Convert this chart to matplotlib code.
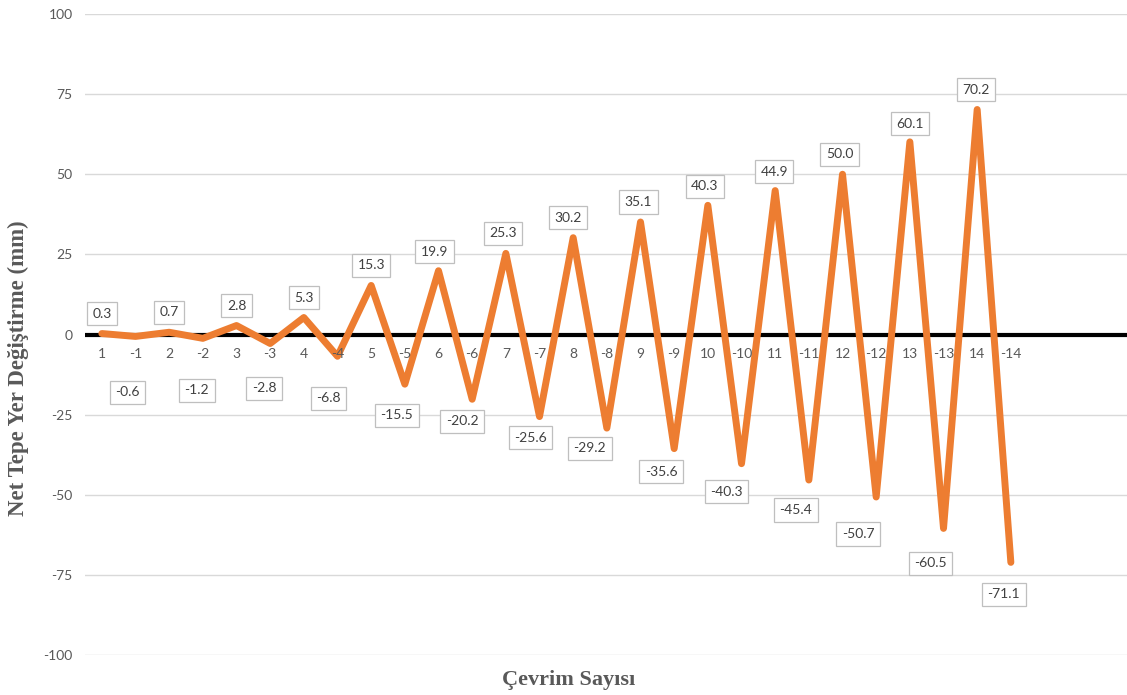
import matplotlib
matplotlib.use("Agg")
import matplotlib.pyplot as plt

# Cycle labels (positive / negative half-cycles) and net peak displacements (mm)
cycles = ["1", "-1", "2", "-2", "3", "-3", "4", "-4", "5", "-5", "6", "-6", "7", "-7",
          "8", "-8", "9", "-9", "10", "-10", "11", "-11", "12", "-12", "13", "-13", "14", "-14"]
displacement = [0.3, -0.6, 0.7, -1.2, 2.8, -2.8, 5.3, -6.8, 15.3, -15.5, 19.9, -20.2, 25.3, -25.6,
                30.2, -29.2, 35.1, -35.6, 40.3, -40.3, 44.9, -45.4, 50.0, -50.7, 60.1, -60.5, 70.2, -71.1]
y_ticks = [-100, -75, -50, -25, 0, 25, 50, 75, 100]

# Label offsets in pixels (dx, dy) from each point
label_dx = [0, -8, 0, -6, 0, -6, 0, -9, 0, -8, -4, -10, -3, -9,
            -5, -17, -2, -13, -3, -15, -1, -13, -3, -18, 0, -13, -1, -7]
label_dy = [20, -56, 20, -52, 20, -45, 20, -42, 20, -31, 19, -22, 20, -21,
            20, -20, 20, -23, 19, -28, 19, -30, 20, -37, 18, -35, 20, -32]

W, H = 1127, 695
fig = plt.figure(figsize=(W / 100, H / 100), dpi=100)
ax = fig.add_axes([85 / W, 40 / H, 1042 / W, 641 / H])

x = list(range(len(cycles)))
ax.set_xlim(-0.5, 30.45)
ax.set_ylim(-100, 100)

for yt in y_ticks:
    if yt != 0:
        ax.axhline(yt, color="#D9D9D9", lw=1.0, zorder=1)
ax.axhline(0, color="black", lw=3.0, zorder=2)

ax.plot(x, displacement, color="#ED7D31", lw=5.0, solid_joinstyle="round",
        solid_capstyle="round", zorder=3)

label_font = ["Lato", "DejaVu Sans"]
for xi, v, dx, dy in zip(x, displacement, label_dx, label_dy):
    ax.annotate(f"{v:.1f}", (xi, v), xytext=(dx, dy), textcoords="offset pixels",
                ha="center", va="center", fontsize=10, color="#404040", family=label_font,
                bbox=dict(boxstyle="square,pad=0.4", fc="white", ec="#BFBFBF", lw=0.9),
                zorder=5)

# Category labels just below the zero line
for xi, c in zip(x, cycles):
    ax.annotate(c, (xi, 0), xytext=(0, -19), textcoords="offset pixels",
                ha="center", va="center", fontsize=10, color="#595959",
                family=label_font, zorder=4)

ax.set_xticks([])
ax.set_yticks(y_ticks)
ax.set_yticklabels([str(t) for t in y_ticks], fontsize=10, color="#595959",
                   family=label_font)
ax.tick_params(axis="y", length=0, pad=9)
for s in ax.spines.values():
    s.set_visible(False)

fig.text(18 / W, 1 - 368 / H, "Net Tepe Yer Değiştirme (mm)", rotation=90,
         ha="center", va="center", fontsize=16.5, fontweight="bold",
         family="Liberation Serif", color="#595959")
fig.text(569 / W, 1 - 680 / H, "Çevrim Sayısı", ha="center", va="center",
         fontsize=16, fontweight="bold", family="Liberation Serif", color="#595959")

fig.savefig("out.png", dpi=100)
